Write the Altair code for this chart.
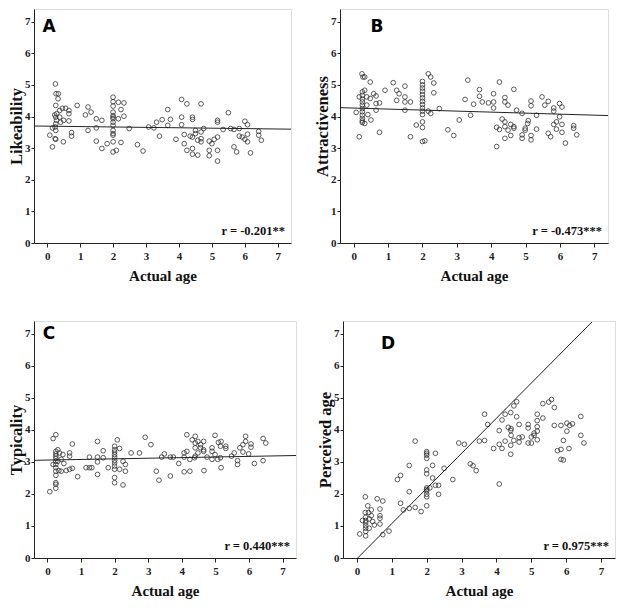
import altair as alt
import pandas as pd

# ---------------- data ----------------
a_x = [0.25,0.27,0.34,0.33,0.26,0.29,0.23,0.26,0.28,0.26,0.24,0.16,0.26,0.24,0.26,0.16,0.08,
       0.38,0.46,0.38,0.41,0.50,0.56,0.49,0.66,0.66,0.66,0.74,0.74,0.91,1.16,1.24,1.33,1.24,
       1.49,1.49,1.49,1.66,1.66,1.82,
       2.0,2.0,2.0,2.0,2.0,2.0,2.0,2.0,2.0,2.0,2.0,2.0,2.0,2.0,
       2.10,2.16,2.16,2.24,2.24,2.33,2.33,2.49,2.74,2.91,3.08,3.24,3.32,3.41,3.49,3.66,3.66,3.74,
       3.91,4.08,4.08,4.08,4.16,4.16,4.24,4.24,4.34,4.41,4.41,4.41,4.41,4.41,4.50,4.50,4.57,4.57,
       4.67,4.67,4.67,4.67,4.75,4.92,4.92,4.92,5.00,5.07,5.17,5.17,5.17,5.17,5.17,5.34,5.50,5.57,
       5.67,5.67,5.75,5.83,5.83,5.92,6.00,6.00,6.08,6.08,6.08,6.17,6.42,6.42,6.50]
a_y = [5.03,4.72,4.72,4.56,4.35,4.09,4.05,3.98,3.88,3.77,3.67,3.64,3.56,3.30,3.28,3.04,3.41,
       4.19,4.26,3.98,3.82,3.88,4.26,3.20,4.19,4.09,3.86,3.49,3.38,4.35,4.05,4.30,4.14,3.56,
       3.93,3.64,3.22,3.88,2.99,3.14,
       4.61,4.47,4.33,4.14,4.03,3.98,3.93,3.82,3.72,3.56,3.46,3.41,3.20,2.88,
       2.93,4.45,3.93,4.22,3.18,4.43,4.01,3.62,3.11,2.91,3.67,3.64,3.82,3.38,3.90,4.22,3.72,3.91,
       3.28,4.54,3.98,3.74,3.43,3.14,4.40,2.93,3.38,3.98,3.91,3.35,2.99,2.81,3.56,3.46,3.25,2.78,
       4.40,3.51,3.30,3.20,3.62,3.22,2.93,2.76,3.14,3.28,3.88,3.82,3.35,2.93,2.59,3.59,4.12,3.62,
       3.59,3.04,2.88,3.62,3.38,3.35,3.85,3.28,3.74,3.44,3.20,2.85,3.53,3.41,3.25]

b_x = [0.07,0.16,0.16,0.24,0.27,0.32,
       0.25,0.25,0.25,0.25,0.25,0.25,0.25,0.25,0.25,0.25,0.25,
       0.32,0.32,0.38,0.38,0.41,0.48,0.48,0.50,0.58,0.65,0.65,0.65,0.75,0.75,0.91,1.15,1.25,1.25,
       1.32,1.49,1.49,1.49,1.49,1.65,1.65,1.82,
       2.0,2.0,2.0,2.0,2.0,2.0,2.0,2.0,2.0,2.0,2.0,2.0,2.0,2.0,
       2.07,2.17,2.24,2.17,2.24,2.33,2.33,2.49,2.74,2.91,3.07,3.24,3.32,3.40,3.49,3.66,3.66,3.74,
       3.92,4.07,4.07,4.07,4.16,4.16,4.24,4.24,4.32,4.40,4.40,4.40,4.40,4.40,4.49,4.49,4.57,4.57,
       4.66,4.66,4.66,4.74,4.90,4.90,4.90,4.99,4.99,5.06,5.08,5.16,5.16,5.16,5.16,5.32,5.32,5.48,
       5.56,5.66,5.66,5.73,5.82,5.82,5.82,5.90,5.90,5.99,5.99,6.06,6.06,6.06,6.16,6.40,6.40,6.49]
b_y = [4.13,3.36,4.62,5.35,5.25,5.25,
       4.78,4.67,4.55,4.46,4.36,4.25,4.15,4.04,3.94,3.86,3.81,
       4.83,3.78,4.36,4.62,4.06,5.09,4.57,3.89,4.72,4.65,4.41,4.20,4.43,3.50,4.83,5.07,4.83,4.51,
       4.72,4.96,4.62,4.46,4.20,4.46,3.36,3.73,
       5.11,5.00,4.90,4.80,4.69,4.59,4.48,4.38,4.27,4.17,4.06,3.83,3.65,3.21,
       3.23,5.35,5.25,4.17,4.10,5.06,4.75,4.25,3.58,3.40,3.89,4.54,5.15,4.04,4.39,4.85,4.64,4.46,
       4.43,4.72,4.46,4.27,3.66,3.05,5.09,3.59,3.92,4.60,4.46,3.83,3.68,3.31,4.36,3.57,3.75,3.40,
       4.86,3.68,3.63,4.20,4.10,3.42,3.31,3.63,3.57,3.78,3.87,4.49,4.34,3.40,3.26,4.04,3.60,4.62,
       4.36,4.48,3.47,3.36,4.27,4.17,3.75,3.83,3.60,4.41,3.99,4.30,3.75,3.50,3.16,3.71,3.63,3.42]

c_x = [0.07,0.17,0.17,0.25,
       0.25,0.25,0.25,0.25,0.25,0.25,0.25,0.25,0.25,0.25,0.25,0.25,
       0.31,0.31,0.36,0.34,0.41,0.41,0.46,0.49,0.56,0.66,0.66,0.66,0.74,0.74,0.90,1.15,1.25,1.25,
       1.32,1.49,1.49,1.49,1.49,1.66,1.66,1.81,
       2.0,2.0,2.0,2.0,2.0,2.0,2.0,2.0,2.0,2.0,2.0,
       2.08,2.15,2.15,2.25,2.25,2.32,2.32,2.49,2.74,2.91,3.08,3.24,3.32,3.40,3.48,3.66,3.66,3.75,
       3.91,4.07,4.07,4.07,4.15,4.15,4.24,4.24,4.31,4.38,4.40,4.40,4.40,4.40,4.48,4.48,4.56,4.56,
       4.65,4.65,4.65,4.66,4.75,4.90,4.90,4.90,4.99,4.99,5.07,5.09,5.15,5.15,5.17,5.17,5.31,5.31,
       5.48,5.56,5.66,5.66,5.73,5.82,5.82,5.90,5.90,5.99,6.06,6.06,6.16,6.42,6.42,6.50]
c_y = [2.07,3.73,2.92,3.85,
       3.33,3.25,3.18,3.11,3.02,2.92,2.82,2.71,2.58,2.35,2.18,2.30,
       3.38,3.02,3.28,2.73,2.71,3.08,3.23,2.95,2.73,3.28,3.18,2.77,3.56,2.80,2.54,2.82,3.15,2.82,
       2.82,3.64,3.15,3.00,2.61,3.35,3.13,2.82,
       3.49,3.38,3.31,3.23,3.15,3.05,2.97,2.87,2.77,2.51,2.35,
       3.69,3.42,2.77,3.02,2.28,2.92,2.71,3.28,3.28,3.77,3.54,2.71,2.43,3.15,3.25,2.56,3.15,3.15,
       2.95,2.69,3.28,3.15,3.85,3.33,3.08,2.71,3.69,3.13,3.80,3.59,3.44,3.18,3.64,3.28,3.54,3.44,
       3.64,3.38,3.33,2.73,3.15,3.44,3.33,3.08,3.83,3.23,3.08,3.61,3.49,3.13,2.82,3.64,3.49,3.42,
       3.18,3.28,3.04,2.92,3.44,3.54,3.31,3.80,3.64,3.25,3.56,3.46,2.95,3.73,3.04,3.59]

d_x = [0.08,0.16,0.24,0.24,
       0.25,0.25,0.25,0.25,0.25,0.25,0.25,
       0.31,0.33,0.35,0.35,0.41,0.41,0.45,0.50,0.58,0.66,0.66,0.66,0.66,0.74,0.74,0.92,1.16,1.25,
       1.25,1.33,1.50,1.50,1.50,1.67,1.67,1.84,
       2.0,2.0,2.0,2.0,2.0,2.0,2.0,2.0,2.0,2.0,2.0,2.0,
       2.09,2.17,2.17,2.25,2.25,2.34,2.34,2.50,2.75,2.92,3.08,3.25,3.33,3.42,3.51,3.66,3.66,3.75,
       3.92,4.08,4.08,4.08,4.16,4.16,4.25,4.25,4.34,4.41,4.41,4.41,4.41,4.42,4.42,4.50,4.50,4.58,
       4.58,4.65,4.65,4.65,4.74,4.91,4.91,4.91,5.00,5.00,5.08,5.08,5.17,5.17,5.17,5.17,5.17,5.33,
       5.33,5.50,5.58,5.66,5.66,5.75,5.85,5.85,5.85,5.92,5.92,6.02,6.02,6.08,6.10,6.18,6.42,6.42,6.51]
d_y = [0.75,1.17,1.91,1.42,
       1.27,1.17,1.10,1.01,0.93,0.83,0.69,
       1.63,1.42,1.22,0.93,1.50,1.32,1.14,1.03,1.85,1.53,1.32,1.24,1.06,1.78,0.73,0.84,2.45,2.58,
       1.71,1.50,2.89,2.07,1.55,3.65,1.58,1.45,
       3.32,3.27,3.21,3.11,2.75,2.63,2.19,2.14,2.09,1.99,1.91,1.63,
       2.19,2.89,2.50,3.27,2.27,2.27,1.99,2.80,2.45,3.59,3.55,2.94,2.88,2.73,3.65,4.49,3.67,4.17,
       3.42,3.98,3.55,2.31,4.31,3.42,4.49,3.65,4.08,4.54,3.98,3.52,3.24,4.04,3.83,4.75,3.67,4.88,
       4.41,4.17,3.76,3.62,3.78,4.17,4.06,3.59,3.78,3.59,3.90,3.83,4.49,4.29,4.10,3.96,3.69,4.82,
       4.37,4.87,4.95,4.70,4.14,3.35,4.14,3.39,3.08,3.67,3.06,4.21,3.96,3.42,4.14,4.19,4.42,3.83,3.59]

# fitted regression lines (end points)
a_line_x, a_line_y = [-0.4, 7.4], [3.70, 3.60]
b_line_x, b_line_y = [-0.4, 7.4], [4.28, 4.03]
c_line_x, c_line_y = [-0.4, 7.4], [3.05, 3.20]
d_line_x, d_line_y = [0.02, 6.74], [0.0, 7.37]

letters = ["A", "B", "C", "D"]
y_titles = ["Likeability", "Attractiveness", "Typicality", "Perceived age"]
r_texts = ["r = -0.201**", "r = -0.473***", "r = 0.440***", "r = 0.975***"]
x_title = "Actual age"
ticks = [0, 1, 2, 3, 4, 5, 6, 7]

SERIF = "Liberation Serif"


def panel(xs, ys, lx, ly, letter, ytitle, rtext, w, h, letter_x, letter_y):
    pts_df = pd.DataFrame({"x": xs, "y": ys})
    line_df = pd.DataFrame({"x": lx, "y": ly})
    xscale = alt.Scale(domain=[-0.4, 7.4], nice=False, zero=False)
    yscale = alt.Scale(domain=[0, 7.4], nice=False)
    xaxis = alt.Axis(values=ticks, title=x_title, grid=False, labelFlush=False,
                     labelFont=SERIF, labelFontWeight="bold", labelFontSize=11,
                     labelColor="#222", titleFont=SERIF, titleFontWeight="bold",
                     titleFontSize=15, titleColor="#111", tickSize=4, tickColor="#222",
                     domainColor="#222", labelPadding=3, titlePadding=7)
    yaxis = alt.Axis(values=ticks, title=ytitle, grid=False, labelFlush=False,
                     labelFont=SERIF, labelFontWeight="bold", labelFontSize=11,
                     labelColor="#222", titleFont=SERIF, titleFontWeight="bold",
                     titleFontSize=16.5, titleColor="#111", tickSize=3, tickColor="#222",
                     domainColor="#222", labelPadding=1, titlePadding=0)
    X = alt.X("x:Q", scale=xscale, axis=xaxis)
    Y = alt.Y("y:Q", scale=yscale, axis=yaxis)
    pts = alt.Chart(pts_df).mark_point(shape="circle", filled=False, size=22,
                                        color="#333", strokeWidth=0.8, opacity=1).encode(x=X, y=Y)
    line = alt.Chart(line_df).mark_line(color="#222", strokeWidth=1, clip=True).encode(x=X, y=Y)
    lab = alt.Chart(pd.DataFrame({"t": [letter]})).mark_text(
        font="DejaVu Sans", fontWeight="bold", fontSize=17, color="#000",
        align="center", baseline="middle").encode(
        x=alt.value(letter_x), y=alt.value(letter_y), text="t:N")
    rt = alt.Chart(pd.DataFrame({"t": [rtext]})).mark_text(
        font=SERIF, fontWeight="bold", fontSize=12.5, color="#111",
        align="right", baseline="middle").encode(
        x=alt.value(w - 6), y=alt.value(h - 12), text="t:N")
    return alt.layer(pts, line, lab, rt).properties(width=w, height=h)


pA = panel(a_x, a_y, a_line_x, a_line_y, letters[0], y_titles[0], r_texts[0], 257, 234, 15, 18)
pB = panel(b_x, b_y, b_line_x, b_line_y, letters[1], y_titles[1], r_texts[1], 268, 234, 37, 18)
pC = panel(c_x, c_y, c_line_x, c_line_y, letters[2], y_titles[2], r_texts[2], 262, 237, 15, 13)
pD = panel(d_x, d_y, d_line_x, d_line_y, letters[3], y_titles[3], r_texts[3], 272, 237, 45, 23)

row1 = alt.hconcat(pA, pB, spacing=22)
row2 = alt.hconcat(pC, pD, spacing=20)
chart = alt.vconcat(row1, row2, spacing=36).properties(
    padding={"left": 0, "top": 0, "right": 0, "bottom": 0}
).configure_view(
    stroke="#111", strokeWidth=1, fill="#f0f0f0"
).configure(background="white")

chart.save("out.html", embed_options={"renderer": "svg", "actions": False})
